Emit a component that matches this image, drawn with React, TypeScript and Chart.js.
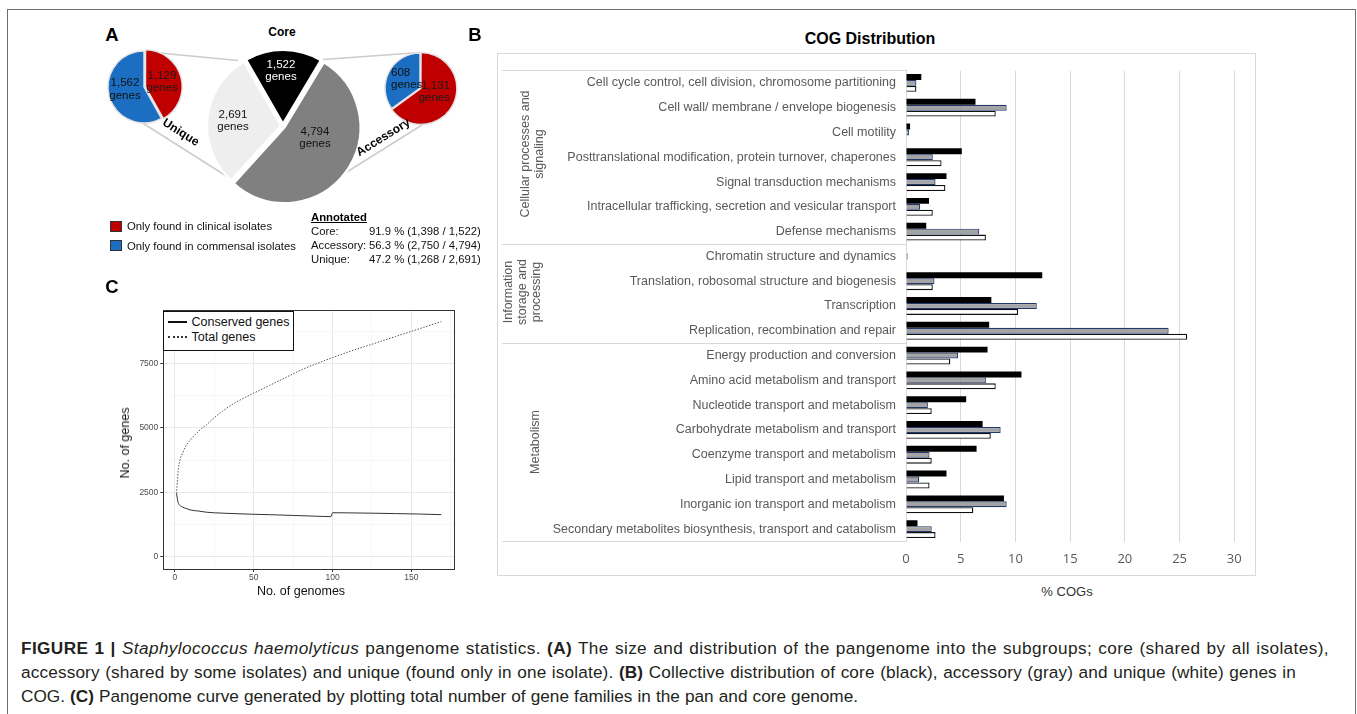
import React, { useEffect, useRef } from "react";
import { Chart, registerables } from "chart.js";

Chart.register(...registerables);

const SANS = '"Liberation Sans", Arial, Helvetica, sans-serif';
const OPEN = '"Open Sans", "Liberation Sans", sans-serif';

// ---------------- Panel A data ----------------
const subgroupLabels = ["Core", "Accessory", "Unique"];
const subgroupGenes = [1522, 4794, 2691];
const subgroupColors = ["#000000", "#808080", "#eeeeee"];
const isolateLabels = ["Only found in clinical isolates", "Only found in commensal isolates"];
const isolateColors = ["#c00000", "#1b6ec2"];
const uniqueByIsolate = [1129, 1562];
const accessoryByIsolate = [1131, 608];
const annotatedNames = ["Core:", "Accessory:", "Unique:"];
const annotatedValues = ["91.9 % (1,398 / 1,522)", "56.3 % (2,750 / 4,794)", "47.2 % (1,268 / 2,691)"];

// ---------------- Panel B data ----------------
const cogCategories = [
  "Cell cycle control, cell division, chromosome partitioning",
  "Cell wall/ membrane / envelope biogenesis",
  "Cell motility",
  "Posttranslational modification, protein turnover, chaperones",
  "Signal transduction mechanisms",
  "Intracellular trafficking, secretion and vesicular transport",
  "Defense mechanisms",
  "Chromatin structure and dynamics",
  "Translation, robosomal structure and biogenesis",
  "Transcription",
  "Replication, recombination and repair",
  "Energy production and conversion",
  "Amino acid metabolism and transport",
  "Nucleotide transport and metabolism",
  "Carbohydrate metabolism and transport",
  "Coenzyme transport and metabolism",
  "Lipid transport and metabolism",
  "Inorganic ion transport and metabolism",
  "Secondary metabolites biosynthesis, transport and catabolism",
];
const cogGroupSizes = [7, 4, 8];
const coreCOG = [1.4, 6.35, 0.37, 5.1, 3.7, 2.1, 1.85, 0, 12.45, 7.8, 7.6, 7.45, 10.55, 5.5, 7.0, 6.45, 3.7, 8.95, 1.05];
const accessoryCOG = [0.95, 9.2, 0.27, 2.45, 2.7, 1.3, 6.7, 0.15, 2.6, 11.95, 24.0, 4.75, 7.3, 2.0, 8.65, 2.15, 1.2, 9.2, 2.35];
const uniqueCOG = [0.95, 8.2, 0, 3.25, 3.6, 2.45, 7.3, 0, 2.45, 10.25, 25.7, 4.05, 8.2, 2.35, 7.75, 2.35, 2.15, 6.15, 2.7];
const cogTicks = [0, 5, 10, 15, 20, 25, 30];

// ---------------- Panel C data ----------------
const totalGenomes = [1, 2, 3, 5, 7, 10, 13, 17, 20, 25, 30, 35, 40, 45, 50, 60, 70, 75, 80, 90, 100, 110, 125, 140, 150, 160, 169];
const totalGenes = [2450, 3300, 3700, 4050, 4300, 4550, 4750, 4980, 5120, 5400, 5640, 5860, 6040, 6200, 6350, 6650, 6950, 7100, 7250, 7500, 7730, 7950, 8250, 8550, 8750, 8950, 9130];
const conservedGenomes = [1, 2, 3, 5, 8, 10, 15, 20, 30, 40, 50, 60, 75, 90, 99, 100, 110, 125, 140, 155, 169];
const conservedGenes = [2450, 2100, 2000, 1920, 1850, 1810, 1770, 1725, 1690, 1665, 1645, 1630, 1600, 1570, 1553, 1705, 1700, 1688, 1672, 1655, 1632];
const genesMajorTicks = [0, 2500, 5000, 7500];
const genesMinorTicks = [1250, 3750, 6250, 8750];
const genomesMajorTicks = [0, 50, 100, 150];
const genomesMinorTicks = [25, 75, 125, 175];

const fmt = (n: number) => n.toLocaleString("en-US");

function Txt(props: any) {
  const { x, y, children, size = 12, weight = 400, color = "#111", align = "center", rotate = 0, lh, family = SANS, style = {} } = props;
  const tx = align === "center" ? "-50%" : align === "left" ? "0%" : "-100%";
  return (
    <div
      style={{
        position: "absolute",
        left: x,
        top: y,
        transform: `translate(${tx}, -50%) rotate(${rotate}deg)`,
        whiteSpace: "nowrap",
        fontSize: size,
        fontWeight: weight,
        color,
        textAlign: align,
        lineHeight: lh ? `${lh}px` : "normal",
        fontFamily: family,
        ...style,
      }}
    >
      {children}
    </div>
  );
}

function Pie(props: any) {
  const { values, labels, colors, offsets, radius, rotation, cx, cy, size, borderColor, borderWidth } = props;
  const ref = useRef<HTMLCanvasElement>(null);
  useEffect(() => {
    const chart = new Chart(ref.current as HTMLCanvasElement, {
      type: "pie",
      data: {
        labels,
        datasets: [
          {
            data: values,
            backgroundColor: colors,
            borderColor,
            borderWidth,
            offset: offsets,
            hoverOffset: 0,
          },
        ],
      },
      options: {
        animation: false,
        responsive: false,
        events: [],
        radius,
        rotation,
        layout: { padding: 0 },
        plugins: { legend: { display: false }, tooltip: { enabled: false } },
      } as any,
    });
    return () => chart.destroy();
  }, []);
  return (
    <canvas
      ref={ref}
      width={size}
      height={size}
      style={{ position: "absolute", left: cx - size / 2, top: cy - size / 2, width: size, height: size }}
    />
  );
}

function PanelA() {
  const lineColor = "#cccccc";
  return (
    <>
      <svg style={{ position: "absolute", left: 0, top: 0 }} width={500} height={300}>
        <line x1={144} y1={51.5} x2={238} y2={60.5} stroke={lineColor} strokeWidth={1.5} />
        <line x1={141} y1={122} x2={231} y2={179} stroke={lineColor} strokeWidth={1.5} />
        <line x1={323} y1={59.5} x2={420} y2={52.5} stroke={lineColor} strokeWidth={1.5} />
        <line x1={342} y1={175} x2={430} y2={120} stroke={lineColor} strokeWidth={1.5} />
      </svg>
      <Txt x={112} y={35} size={18.5} weight={700} color="#000">A</Txt>
      <Txt x={282} y={32} size={12} weight={700} color="#000">Core</Txt>
      <Pie values={subgroupGenes} labels={subgroupLabels} colors={subgroupColors} offsets={[8, 8, 8]} radius={74} rotation={-30} cx={283} cy={126} size={190} borderColor="#ffffff" borderWidth={2.5} />
      <Pie values={uniqueByIsolate} labels={isolateLabels} colors={isolateColors} offsets={[6, 0]} radius={36} rotation={0} cx={144} cy={87} size={96} borderColor="#e2e2e2" borderWidth={1.5} />
      <Pie values={accessoryByIsolate} labels={isolateLabels} colors={isolateColors} offsets={[4, 0]} radius={35} rotation={0} cx={420} cy={87.5} size={96} borderColor="#e2e2e2" borderWidth={1.5} />

      <Txt x={281} y={70} size={11.5} lh={11.5} color="#ffffff">{fmt(subgroupGenes[0])}<br />genes</Txt>
      <Txt x={315} y={137} size={11.5} lh={11.5} color="#111">{fmt(subgroupGenes[1])}<br />genes</Txt>
      <Txt x={233} y={120} size={11.5} lh={11.5} color="#111">{fmt(subgroupGenes[2])}<br />genes</Txt>

      <Txt x={162} y={81} size={11.5} lh={11.5} color="#1a1a1a">{fmt(uniqueByIsolate[0])}<br />genes</Txt>
      <Txt x={125} y={88.5} size={11.5} lh={13} color="#111">{fmt(uniqueByIsolate[1])}<br />genes</Txt>
      <Txt x={450} y={91} size={11.5} lh={12} align="right" color="#1a1a1a">{fmt(accessoryByIsolate[0])}<br />genes</Txt>
      <Txt x={391} y={77.5} size={11.5} lh={12} align="left" color="#111">{fmt(accessoryByIsolate[1])}<br />genes</Txt>

      <Txt x={181} y={132} size={12} weight={700} rotate={32} color="#000">Unique</Txt>
      <Txt x={383} y={137} size={12} weight={700} rotate={-32} color="#000">Accessory</Txt>

      {isolateLabels.map((lab, i) => (
        <React.Fragment key={lab}>
          <div style={{ position: "absolute", left: 110, top: 220.5 + i * 19, width: 12, height: 11.5, background: isolateColors[i], border: "1px solid #333", boxSizing: "border-box" }} />
          <Txt x={127} y={226 + i * 19.5} size={11.3} align="left" color="#111">{lab}</Txt>
        </React.Fragment>
      ))}
      <Txt x={311} y={216.5} size={11.3} weight={700} align="left" color="#000" style={{ textDecoration: "underline" }}>Annotated</Txt>
      {annotatedNames.map((n, i) => (
        <React.Fragment key={n}>
          <Txt x={311} y={231 + i * 14} size={11.3} align="left" color="#111">{n}</Txt>
          <Txt x={369} y={231 + i * 14} size={11.3} align="left" color="#111">{annotatedValues[i]}</Txt>
        </React.Fragment>
      ))}
    </>
  );
}

function PanelB() {
  const ref = useRef<HTMLCanvasElement>(null);
  useEffect(() => {
    const separators = {
      id: "groupSeparators",
      afterDraw(chart: any) {
        const y = chart.scales.y;
        const { ctx, chartArea } = chart;
        const bounds: number[] = [chartArea.top];
        let idx = 0;
        cogGroupSizes.forEach((n) => {
          idx += n;
          bounds.push(idx >= cogCategories.length ? chartArea.bottom : (y.getPixelForValue(idx - 1) + y.getPixelForValue(idx)) / 2);
        });
        ctx.save();
        ctx.strokeStyle = "#d9d9d9";
        ctx.lineWidth = 1;
        bounds.forEach((b) => {
          const yy = Math.floor(b) + 0.5;
          ctx.beginPath();
          ctx.moveTo(5, yy);
          ctx.lineTo(chartArea.left, yy);
          ctx.stroke();
        });
        ctx.restore();
      },
    };
    const chart = new Chart(ref.current as HTMLCanvasElement, {
      type: "bar",
      data: {
        labels: cogCategories,
        datasets: [
          { label: "Core", data: coreCOG, backgroundColor: "#000000", borderColor: "#000000", borderWidth: 0 },
          { label: "Accessory", data: accessoryCOG, backgroundColor: "#a4a4a4", borderColor: "#22396b", borderWidth: 1.2 },
          { label: "Unique", data: uniqueCOG, backgroundColor: "#ffffff", borderColor: "#111111", borderWidth: 1.3 },
        ],
      },
      options: {
        indexAxis: "y",
        animation: false,
        responsive: false,
        events: [],
        datasets: { bar: { categoryPercentage: 0.72, barPercentage: 1 } },
        layout: { padding: { top: 13.5, right: 21.7, bottom: 0, left: 0 } },
        plugins: { legend: { display: false }, tooltip: { enabled: false } },
        scales: {
          x: {
            type: "linear",
            min: 0,
            max: 30,
            afterBuildTicks: (s: any) => {
              s.ticks = cogTicks.map((v) => ({ value: v }));
            },
            grid: { color: "#d9d9d9", drawTicks: false },
            border: { display: false },
            ticks: { font: { family: OPEN, size: 13 }, color: "#595959", padding: 10, autoSkip: false, maxRotation: 0 },
            afterFit: (s: any) => {
              s.height = 34.5;
            },
          },
          y: {
            grid: { display: false, drawTicks: false },
            border: { display: true, color: "#d9d9d9" },
            ticks: { autoSkip: false, font: { family: SANS, size: 12.5 }, color: "#595959", padding: 10 },
            afterFit: (s: any) => {
              s.width = 409;
            },
          },
        },
      } as any,
      plugins: [separators],
    });
    return () => chart.destroy();
  }, []);
  return (
    <>
      <Txt x={475} y={35} size={18.5} weight={700} color="#000">B</Txt>
      <Txt x={870} y={39} size={16} weight={700} color="#000">COG Distribution</Txt>
      <div style={{ position: "absolute", left: 497, top: 53, width: 759, height: 523, border: "1px solid #d9d9d9", boxSizing: "border-box" }} />
      <canvas ref={ref} width={759} height={523} style={{ position: "absolute", left: 497, top: 53, width: 759, height: 523 }} />
      <Txt x={532} y={153.5} size={12.5} lh={14} rotate={-90} color="#595959">Cellular processes and<br />signaling</Txt>
      <Txt x={522} y={291.5} size={12.5} lh={14} rotate={-90} color="#595959">Information<br />storage and<br />processing</Txt>
      <Txt x={535} y={441.5} size={12.5} rotate={-90} color="#595959">Metabolism</Txt>
      <Txt x={1067} y={591} size={13} color="#333">% COGs</Txt>
    </>
  );
}

function PanelC() {
  const ref = useRef<HTMLCanvasElement>(null);
  useEffect(() => {
    const border = {
      id: "panelBorder",
      afterDraw(chart: any) {
        const { ctx, chartArea } = chart;
        ctx.save();
        ctx.strokeStyle = "#333333";
        ctx.lineWidth = 1;
        ctx.strokeRect(Math.round(chartArea.left) + 0.5, Math.round(chartArea.top) + 0.5, Math.round(chartArea.right - chartArea.left), Math.round(chartArea.bottom - chartArea.top));
        ctx.restore();
      },
    };
    const isMajor = (list: number[], v: number) => list.includes(v);
    const chart = new Chart(ref.current as HTMLCanvasElement, {
      type: "line",
      data: {
        datasets: [
          {
            label: "Conserved genes",
            data: conservedGenomes.map((x, i) => ({ x, y: conservedGenes[i] })),
            borderColor: "#333333",
            borderWidth: 1,
            pointRadius: 0,
            cubicInterpolationMode: "monotone",
          },
          {
            label: "Total genes",
            data: totalGenomes.map((x, i) => ({ x, y: totalGenes[i] })),
            borderColor: "#555555",
            borderWidth: 1,
            borderDash: [1.5, 1.5],
            pointRadius: 0,
            cubicInterpolationMode: "monotone",
          },
        ],
      },
      options: {
        animation: false,
        responsive: false,
        events: [],
        layout: { padding: { top: 10, right: 10.5, bottom: 0, left: 0 } },
        plugins: { legend: { display: false }, tooltip: { enabled: false } },
        scales: {
          x: {
            type: "linear",
            min: -7.4,
            max: 177.4,
            afterBuildTicks: (s: any) => {
              s.ticks = [...genomesMajorTicks, ...genomesMinorTicks].sort((a, b) => a - b).map((v) => ({ value: v }));
            },
            ticks: {
              autoSkip: false,
              maxRotation: 0,
              callback: (v: any) => (isMajor(genomesMajorTicks, v) ? String(v) : ""),
              font: { family: SANS, size: 8.5 },
              color: "#4d4d4d",
              padding: 1,
            },
            grid: {
              color: (c: any) => (isMajor(genomesMajorTicks, c.tick.value) ? "#e8e8e8" : "#f4f4f4"),
              lineWidth: (c: any) => (isMajor(genomesMajorTicks, c.tick.value) ? 1 : 0.7),
              tickColor: (c: any) => (isMajor(genomesMajorTicks, c.tick.value) ? "#333333" : "rgba(0,0,0,0)"),
              tickLength: 3,
            },
            border: { display: false },
            afterFit: (s: any) => {
              s.height = 31;
            },
          },
          y: {
            type: "linear",
            min: -480,
            max: 9580,
            afterBuildTicks: (s: any) => {
              s.ticks = [...genesMajorTicks, ...genesMinorTicks].sort((a, b) => a - b).map((v) => ({ value: v }));
            },
            ticks: {
              autoSkip: false,
              callback: (v: any) => (isMajor(genesMajorTicks, v) ? String(v) : ""),
              font: { family: SANS, size: 8.5 },
              color: "#4d4d4d",
              padding: 2,
            },
            grid: {
              color: (c: any) => (isMajor(genesMajorTicks, c.tick.value) ? "#e8e8e8" : "#f4f4f4"),
              lineWidth: (c: any) => (isMajor(genesMajorTicks, c.tick.value) ? 1 : 0.7),
              tickColor: (c: any) => (isMajor(genesMajorTicks, c.tick.value) ? "#333333" : "rgba(0,0,0,0)"),
              tickLength: 3,
            },
            border: { display: false },
            afterFit: (s: any) => {
              s.width = 63.3;
            },
          },
        },
      } as any,
      plugins: [border],
    });
    return () => chart.destroy();
  }, []);
  return (
    <>
      <Txt x={112} y={287} size={18.5} weight={700} color="#000">C</Txt>
      <canvas ref={ref} width={365} height={300} style={{ position: "absolute", left: 100, top: 300, width: 365, height: 300 }} />
      <div style={{ position: "absolute", left: 163, top: 311, width: 131, height: 40, border: "1.5px solid #111", background: "#fff", boxSizing: "border-box" }} />
      <div style={{ position: "absolute", left: 168, top: 321, width: 19, height: 0, borderTop: "2px solid #111" }} />
      <div style={{ position: "absolute", left: 168, top: 336, width: 19, height: 0, borderTop: "2px dotted #333" }} />
      <Txt x={191.5} y={322} size={12.5} align="left" color="#111">Conserved genes</Txt>
      <Txt x={191.5} y={337} size={12.5} align="left" color="#111">Total genes</Txt>
      <Txt x={125} y={443} size={12.5} rotate={-90} color="#111">No. of genes</Txt>
      <Txt x={301} y={591} size={12.5} color="#111">No. of genomes</Txt>
    </>
  );
}

function Caption() {
  const base: any = {
    position: "absolute",
    left: 21,
    fontSize: 17.2,
    color: "#231f20",
    fontFamily: SANS,
    lineHeight: "20px",
    height: 20,
    overflow: "visible",
    textAlign: "justify",
    textAlignLast: "justify",
    whiteSpace: "normal",
  };
  return (
    <>
      <div style={{ ...base, top: 638, width: 1308, letterSpacing: "0.4px" }}>
        <b>FIGURE 1 | </b><i>Staphylococcus haemolyticus</i> pangenome statistics. <b>(A)</b> The size and distribution of the pangenome into the subgroups; core (shared by all isolates),
      </div>
      <div style={{ ...base, top: 662, width: 1275, letterSpacing: "0.15px" }}>
        accessory (shared by some isolates) and unique (found only in one isolate). <b>(B)</b> Collective distribution of core (black), accessory (gray) and unique (white) genes in
      </div>
      <div style={{ ...base, top: 686, width: 837 }}>
        COG. <b>(C)</b> Pangenome curve generated by plotting total number of gene families in the pan and core genome.
      </div>
    </>
  );
}

export default function App() {
  return (
    <div style={{ position: "absolute", left: 0, top: 0, width: 1357, height: 714, overflow: "hidden", background: "#fff", fontFamily: SANS }}>
      <div style={{ position: "absolute", left: 7, top: 9, width: 1349, height: 720, borderTop: "1.5px solid #6e6e6e", borderLeft: "1.5px solid #6e6e6e", borderRight: "1.5px solid #6e6e6e", boxSizing: "border-box" }} />
      <PanelA />
      <PanelB />
      <PanelC />
      <Caption />
    </div>
  );
}
